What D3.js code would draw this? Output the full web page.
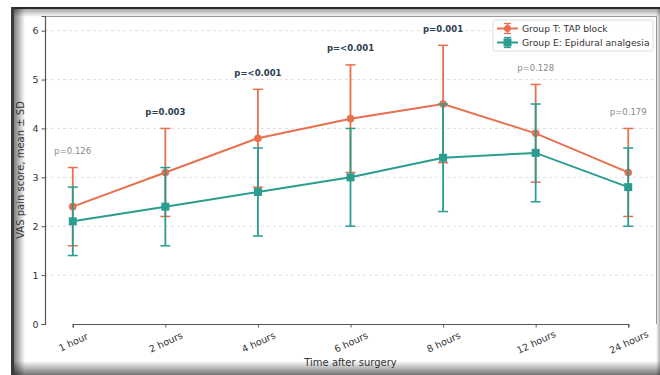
<!DOCTYPE html>
<html><head><meta charset="utf-8">
<script src="https://cdn.jsdelivr.net/npm/d3@7/dist/d3.min.js"></script>
<style>body{margin:0;background:#fff;}svg{display:block;font-family:"DejaVu Sans",sans-serif;}</style>
</head><body><svg id="c" width="660" height="375"></svg>
<script>
const categories = ["1 hour","2 hours","4 hours","6 hours","8 hours","12 hours","24 hours"];
const tapMean = [2.4, 3.1, 3.8, 4.2, 4.5, 3.9, 3.1];
const tapSD   = [0.8, 0.9, 1.0, 1.1, 1.2, 1.0, 0.9];
const epiMean = [2.1, 2.4, 2.7, 3.0, 3.4, 3.5, 2.8];
const epiSD   = [0.7, 0.8, 0.9, 1.0, 1.1, 1.0, 0.8];
const pValues = ["p=0.126","p=0.003","p=<0.001","p=<0.001","p=0.001","p=0.128","p=0.179"];
const significant = [false,true,true,true,true,false,false];
const yTicks = [0,1,2,3,4,5,6];
const seriesNames = ["Group T: TAP block","Group E: Epidural analgesia"];

const cT = "#e8704f", cE = "#2a9d8f";
const svg = d3.select("#c");
const defs = svg.append("defs");
function grad(id,x1,y1,x2,y2,stops){
  const g = defs.append("linearGradient").attr("id",id).attr("x1",x1).attr("y1",y1).attr("x2",x2).attr("y2",y2);
  stops.forEach(s=>g.append("stop").attr("offset",s[0]).attr("stop-color",s[1]).attr("stop-opacity",s[2]));
}
grad("gl",0,0,1,0,[[0,"#000",0.5],[1,"#000",0]]);
grad("gt",0,0,0,1,[[0,"#000",0.35],[1,"#000",0]]);
grad("gb",0,0,0,1,[[0,"#000",0],[1,"#000",0.55]]);
grad("gr",0,0,1,0,[[0,"#000",0],[1,"#000",0.3]]);

// outer frame
svg.append("rect").attr("x",11).attr("y",7).attr("width",649).attr("height",368).attr("fill","#fff");
svg.append("rect").attr("x",14).attr("y",9).attr("width",11).attr("height",366).attr("fill","url(#gl)");
svg.append("rect").attr("x",14).attr("y",9).attr("width",646).attr("height",8).attr("fill","url(#gt)");
svg.append("rect").attr("x",11).attr("y",361).attr("width",649).attr("height",14).attr("fill","url(#gb)");
svg.append("rect").attr("x",656).attr("y",9).attr("width",4).attr("height",366).attr("fill","url(#gr)");
svg.append("rect").attr("x",11).attr("y",7).attr("width",649).attr("height",2).attr("fill","#2a2a2a");
svg.append("rect").attr("x",11).attr("y",7).attr("width",3).attr("height",368).attr("fill","#3a3a3a");

const L=45, R=656, T=16, B=324;
const step = (R-L)/((categories.length-1)*1.1);
const xPos = d3.scalePoint().domain(categories).range([L+step*0.3, R-step*0.3]);
const y = d3.scaleLinear().domain([0,6.3]).range([B,T]);

const g = svg.append("g");
// grid
g.selectAll("line.grid").data(yTicks.filter(d=>d>0)).join("line")
  .attr("x1",L).attr("x2",R).attr("y1",d=>y(d)).attr("y2",d=>y(d))
  .attr("stroke","#d8d8d8").attr("stroke-width",0.8).attr("stroke-dasharray","3,3");

// spines top/right
g.append("line").attr("x1",L).attr("x2",R).attr("y1",T+0.5).attr("y2",T+0.5).attr("stroke","#999").attr("stroke-width",1);
g.append("line").attr("x1",R+0.5).attr("x2",R+0.5).attr("y1",T).attr("y2",B).attr("stroke","#999").attr("stroke-width",1);

// axes
const yAxis = g.append("g").attr("transform",`translate(${L},0)`).call(d3.axisLeft(y).tickValues(yTicks).tickFormat(d3.format("d")).tickSize(3.5).tickPadding(3));
const xAxis = g.append("g").attr("transform",`translate(0,${B})`).call(d3.axisBottom(xPos).tickSize(3.5).tickPadding(3));
[yAxis,xAxis].forEach(a=>{
  a.select(".domain").attr("stroke","#555").attr("stroke-width",1.2);
  a.selectAll(".tick line").attr("stroke","#555");
  a.selectAll(".tick text").attr("fill","#333").attr("font-size",9.5).attr("font-family","DejaVu Sans");
});
xAxis.selectAll(".tick text").attr("text-anchor","middle").attr("dy",null).attr("y",null)
  .attr("transform","translate(0,18) rotate(-25)").attr("dominant-baseline","central");

// axis titles
svg.append("text").attr("x",(L+R)/2).attr("y",366).attr("text-anchor","middle").attr("font-size",10).attr("fill","#333").text("Time after surgery");
svg.append("text").attr("transform",`translate(24,${(T+B)/2}) rotate(-90)`).attr("text-anchor","middle").attr("font-size",10).attr("fill","#333").text("VAS pain score, mean ± SD");

function series(means, sds, color, marker){
  const data = categories.map((c,i)=>({c, m:means[i], s:sds[i]}));
  const sg = g.append("g");
  sg.append("path").datum(data).attr("fill","none").attr("stroke",color).attr("stroke-width",2)
    .attr("d", d3.line().x(d=>xPos(d.c)).y(d=>y(d.m)));
  data.forEach(d=>{
    const cx = xPos(d.c);
    sg.append("line").attr("x1",cx).attr("x2",cx).attr("y1",y(d.m-d.s)).attr("y2",y(d.m+d.s)).attr("stroke",color).attr("stroke-width",1.8);
    [d.m-d.s, d.m+d.s].forEach(v=>sg.append("line").attr("x1",cx-5).attr("x2",cx+5).attr("y1",y(v)).attr("y2",y(v)).attr("stroke",color).attr("stroke-width",1.5));
    if(marker==="circle") sg.append("circle").attr("cx",cx).attr("cy",y(d.m)).attr("r",3.8).attr("fill",color);
    else sg.append("rect").attr("x",cx-4).attr("y",y(d.m)-4).attr("width",8).attr("height",8).attr("fill",color);
  });
}
series(tapMean, tapSD, cT, "circle");
series(epiMean, epiSD, cE, "square");

// p-values
categories.forEach((c,i)=>{
  const top = Math.max(tapMean[i]+tapSD[i], epiMean[i]+epiSD[i]);
  svg.append("text").attr("x",xPos(c)).attr("y",y(top+0.34)).attr("text-anchor","middle").attr("dominant-baseline","central")
    .attr("font-size",8.5).attr("font-weight",significant[i]?"bold":"normal")
    .attr("fill",significant[i]?"#2c3e50":"#8a8a8a").text(pValues[i]);
});

// legend
const lg = svg.append("g");
lg.append("rect").attr("x",493).attr("y",20).attr("width",160).attr("height",31).attr("rx",2.5)
  .attr("fill","#fff").attr("fill-opacity",0.85).attr("stroke","#d5d5d5").attr("stroke-width",0.8);
[[cT,"circle",28.5],[cE,"square",42.5]].forEach((e,i)=>{
  const [col,mk,ly]=e;
  lg.append("line").attr("x1",497).attr("x2",518).attr("y1",ly).attr("y2",ly).attr("stroke",col).attr("stroke-width",2);
  lg.append("line").attr("x1",507.5).attr("x2",507.5).attr("y1",ly-5).attr("y2",ly+5).attr("stroke",col).attr("stroke-width",1.5);
  lg.append("line").attr("x1",504).attr("x2",511).attr("y1",ly-5).attr("y2",ly-5).attr("stroke",col).attr("stroke-width",1.3);
  lg.append("line").attr("x1",504).attr("x2",511).attr("y1",ly+5).attr("y2",ly+5).attr("stroke",col).attr("stroke-width",1.3);
  if(mk==="circle") lg.append("circle").attr("cx",507.5).attr("cy",ly).attr("r",3.5).attr("fill",col);
  else lg.append("rect").attr("x",503.5).attr("y",ly-4).attr("width",8).attr("height",8).attr("fill",col);
  lg.append("text").attr("x",522).attr("y",ly).attr("dominant-baseline","central").attr("font-size",9.2).attr("fill","#333").text(seriesNames[i]);
});
</script></body></html>
